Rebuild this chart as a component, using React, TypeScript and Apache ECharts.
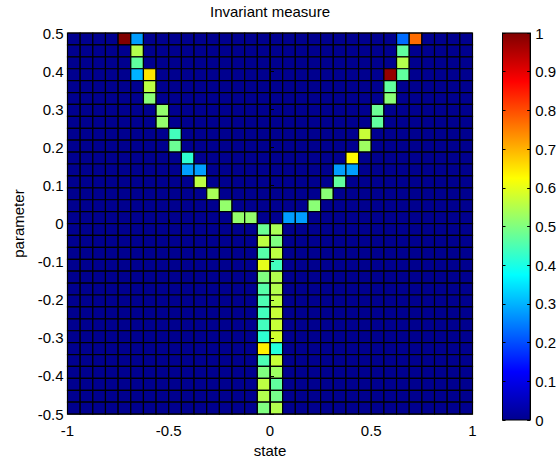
import React, { useEffect, useRef } from "react";
import * as echarts from "echarts";

// grid of the pcolor plot
const NX = 32;
const NY = 32;
const X_MIN = -1;
const X_MAX = 1;
const Y_MIN = -0.5;
const Y_MAX = 0.5;

// [row from top, column from left, value]
const leftArm: [number, number, number][] = [
  [0, 4, 1.0], [0, 5, 0.28], [1, 5, 0.55], [2, 5, 0.47], [3, 5, 0.3], [3, 6, 0.65],
  [4, 6, 0.56], [5, 6, 0.51], [6, 7, 0.52], [7, 7, 0.52], [8, 8, 0.44], [9, 8, 0.48],
  [10, 9, 0.42], [11, 9, 0.28], [11, 10, 0.28], [12, 10, 0.56], [13, 11, 0.54],
  [14, 12, 0.52], [15, 13, 0.52], [15, 14, 0.52],
];
const rightArm: [number, number, number][] = [
  [0, 26, 0.23], [0, 27, 0.77], [1, 26, 0.47], [2, 26, 0.55], [3, 25, 0.98], [3, 26, 0.47],
  [4, 25, 0.47], [5, 25, 0.51], [6, 24, 0.48], [7, 24, 0.47], [8, 23, 0.57], [9, 23, 0.53],
  [10, 22, 0.63], [11, 21, 0.28], [11, 22, 0.28], [12, 21, 0.47], [13, 20, 0.51],
  [14, 19, 0.51], [15, 17, 0.28], [15, 18, 0.28],
];
// stem: rows 16..31, columns 15 and 16
const stemFirstRow = 16;
const stemLeftCol = 15;
const stemRightCol = 16;
const stemLeft = [0.48, 0.56, 0.46, 0.6, 0.5, 0.46, 0.45, 0.44, 0.44, 0.42, 0.64, 0.45, 0.5, 0.56, 0.55, 0.5];
const stemRight = [0.54, 0.5, 0.56, 0.44, 0.55, 0.55, 0.56, 0.57, 0.57, 0.58, 0.41, 0.57, 0.53, 0.47, 0.49, 0.55];

const colorbarTicks = [0, 0.1, 0.2, 0.3, 0.4, 0.5, 0.6, 0.7, 0.8, 0.9, 1];
const jet = ["#00008F", "#0000FF", "#0080FF", "#00FFFF", "#80FF80", "#FFFF00", "#FF8000", "#FF0000", "#800000"];

const FONT = "Liberation Sans, Arial, Helvetica, sans-serif";
const FS = 15;

export default function App() {
  const ref = useRef<HTMLDivElement>(null);
  useEffect(() => {
    if (!ref.current) return;
    const chart = echarts.init(ref.current, undefined, { renderer: "svg" });
    const DX = (X_MAX - X_MIN) / NX;
    const DY = (Y_MAX - Y_MIN) / NY;
    const matrix: number[][] = [];
    for (let k = 0; k < NY; k++) matrix.push(new Array(NX).fill(0));
    for (const [r, c, v] of leftArm) matrix[r][c] = v;
    for (const [r, c, v] of rightArm) matrix[r][c] = v;
    stemLeft.forEach((v, i) => (matrix[stemFirstRow + i][stemLeftCol] = v));
    stemRight.forEach((v, i) => (matrix[stemFirstRow + i][stemRightCol] = v));
    const data: number[][] = [];
    for (let k = 0; k < NY; k++)
      for (let i = 0; i < NX; i++)
        data.push([X_MIN + i * DX, Y_MAX - (k + 1) * DY, matrix[k][i]]);

    const grid1 = { left: 67.5, top: 33, width: 405, height: 387 };
    const grid2 = { left: 502.5, top: 33, width: 32, height: 387 };
    const labelStyle = { color: "#000", fontSize: FS, fontFamily: FONT };

    chart.setOption({
      animation: false,
      backgroundColor: "#fff",
      textStyle: { fontFamily: FONT },
      graphic: [
        {
          type: "text",
          x: 270,
          y: 4,
          style: { text: "Invariant measure", font: `${FS}px ${FONT}`, textAlign: "center", fill: "#000" },
        },
      ],
      grid: [
        { ...grid1, show: true, borderColor: "#000", borderWidth: 1, backgroundColor: "transparent", z: 5 },
        { ...grid2, show: true, borderColor: "#000", borderWidth: 1, backgroundColor: "transparent", z: 5 },
      ],
      visualMap: {
        type: "continuous",
        show: false,
        min: 0,
        max: 1,
        dimension: 2,
        seriesIndex: 0,
        inRange: { color: jet },
      },
      xAxis: [
        {
          type: "value",
          gridIndex: 0,
          min: X_MIN,
          max: X_MAX,
          interval: 0.5,
          name: "state",
          nameLocation: "middle",
          nameGap: 25,
          nameTextStyle: labelStyle,
          axisLine: { show: true, lineStyle: { color: "#000" } },
          axisTick: { show: true, inside: true, length: 4, lineStyle: { color: "#000" } },
          axisLabel: { ...labelStyle, margin: 9 },
          splitLine: { show: false },
          z: 6,
        },
        {
          type: "category",
          gridIndex: 1,
          data: ["c"],
          show: false,
        },
      ],
      yAxis: [
        {
          type: "value",
          gridIndex: 0,
          min: Y_MIN,
          max: Y_MAX,
          interval: 0.1,
          name: "parameter",
          nameLocation: "middle",
          nameGap: 42,
          nameTextStyle: labelStyle,
          axisLine: { show: true, lineStyle: { color: "#000" } },
          axisTick: { show: true, inside: true, length: 4, lineStyle: { color: "#000" } },
          axisLabel: { ...labelStyle, margin: 4 },
          splitLine: { show: false },
          z: 6,
        },
        {
          type: "value",
          gridIndex: 1,
          position: "right",
          min: 0,
          max: 1,
          interval: 0.1,
          axisLine: { show: true, lineStyle: { color: "#000" } },
          axisTick: { show: true, inside: true, length: 3, lineStyle: { color: "#000" } },
          axisLabel: {
            ...labelStyle,
            margin: 5,
            formatter: (v: number) => {
              const t = colorbarTicks.find((x) => Math.abs(x - v) < 1e-9);
              return t === undefined ? "" : String(t);
            },
          },
          splitLine: { show: false },
          z: 6,
        },
        {
          type: "value",
          gridIndex: 1,
          position: "left",
          min: 0,
          max: 1,
          interval: 0.1,
          axisLine: { show: true, lineStyle: { color: "#000" } },
          axisTick: { show: true, inside: true, length: 3, lineStyle: { color: "#000" } },
          axisLabel: { show: false },
          splitLine: { show: false },
          z: 6,
        },
      ],
      series: [
        {
          type: "custom",
          xAxisIndex: 0,
          yAxisIndex: 0,
          data,
          encode: { x: 0, y: 1 },
          dimensions: ["x", "y", "value"],
          renderItem: (params: any, api: any) => {
            const x0 = api.value(0);
            const y0 = api.value(1);
            const a = api.coord([x0, y0 + DY]);
            const b = api.coord([x0 + DX, y0]);
            return {
              type: "rect",
              shape: { x: a[0], y: a[1], width: b[0] - a[0], height: b[1] - a[1] },
              style: { fill: api.visual("color"), stroke: "#000", lineWidth: 1.2 },
            };
          },
        },
        {
          type: "bar",
          xAxisIndex: 1,
          yAxisIndex: 1,
          data: [1],
          barWidth: "100%",
          barCategoryGap: 0,
          itemStyle: {
            color: new echarts.graphic.LinearGradient(
              0, 1, 0, 0,
              jet.map((c, i) => ({ offset: i / (jet.length - 1), color: c }))
            ),
          },
        },
      ],
    });
    return () => chart.dispose();
  }, []);
  return (
    <div
      ref={ref}
      style={{ position: "fixed", left: 0, top: 0, width: 559, height: 463 }}
    />
  );
}
